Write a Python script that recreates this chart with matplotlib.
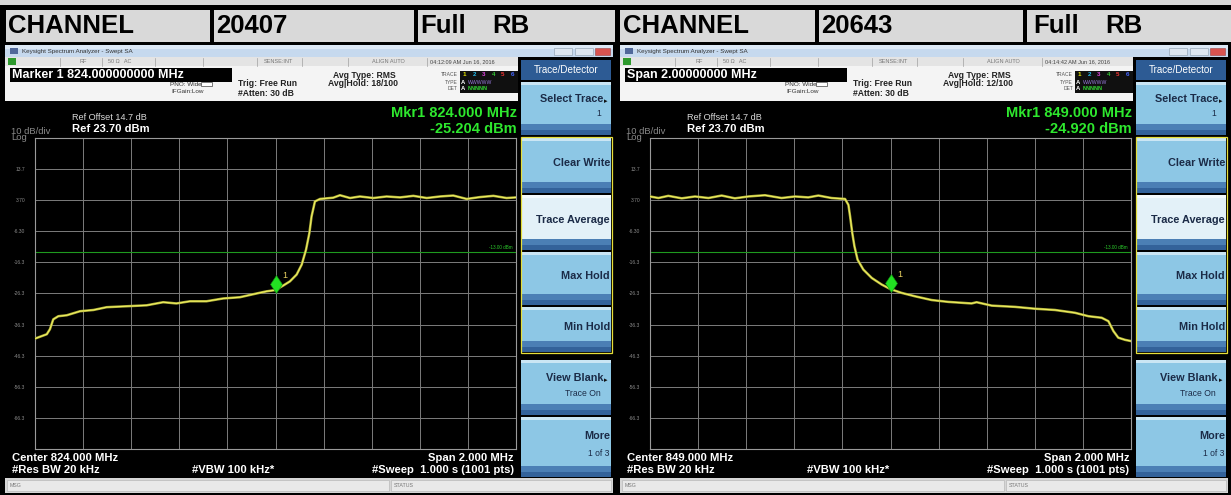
import matplotlib
matplotlib.use("Agg")
import matplotlib.pyplot as plt
from matplotlib.patches import Rectangle
from matplotlib.transforms import ScaledTranslation

plt.rcParams['font.family'] = ['Liberation Sans', 'DejaVu Sans']

# Datos de las dos capturas (offset de frecuencia en MHz respecto al centro, nivel en dBm)
channels = ["20407", "20643"]
centers = ["824.000", "849.000"]
entry_labels = ["Marker 1 824.000000000 MHz", "Span 2.00000000 MHz"]
mkr_freq_text = ["Mkr1 824.000 MHz", "Mkr1 849.000 MHz"]
mkr_level = [-25.204, -24.920]
mkr_offset = [0.0, 0.0]
timestamps = ["04:12:09 AM Jun 16, 2016", "04:14:42 AM Jun 16, 2016"]
avg_hold = ["18/100", "12/100"]
limit_dbm = -13.0

low_offset = [-1.000, -0.951, -0.938, -0.924, -0.903, -0.868, -0.813, -0.757, -0.702,
              -0.619, -0.536, -0.467, -0.412, -0.356, -0.287, -0.218, -0.148, -0.079,
              -0.037, 0.000, 0.033, 0.060, 0.088, 0.109, 0.127, 0.141, 0.150, 0.164,
              0.185, 0.240, 0.268, 0.310, 0.351, 0.407, 0.462, 0.518, 0.573, 0.629,
              0.684, 0.739, 0.795, 0.850, 0.906, 0.961, 1.000]
low_dbm = [-40.8, -39.4, -37.8, -34.6, -33.6, -33.3, -32.0, -31.6, -30.7,
           -30.4, -30.1, -29.1, -29.5, -28.8, -28.8, -27.9, -27.5, -26.3,
           -25.6, -25.2, -23.7, -22.4, -20.2, -17.0, -12.2, -6.8, -1.5, 3.3,
           4.1, 4.5, 5.3, 4.4, 4.9, 4.4, 4.9, 4.6, 5.1, 4.4,
           4.9, 5.2, 4.1, 4.7, 5.1, 4.4, 4.6]

high_offset = [-1.000, -0.965, -0.924, -0.868, -0.813, -0.757, -0.702, -0.647, -0.591,
               -0.522, -0.453, -0.397, -0.342, -0.300, -0.245, -0.189, -0.175, -0.168,
               -0.159, -0.150, -0.137, -0.113, -0.078, -0.037, 0.000, 0.046, 0.102,
               0.171, 0.240, 0.337, 0.358, 0.421, 0.518, 0.601, 0.684, 0.767, 0.823,
               0.878, 0.906, 0.927, 0.947, 0.975, 1.000]
high_dbm = [4.9, 4.4, 5.1, 4.3, 4.9, 4.4, 5.2, 4.3, 4.9,
            5.3, 4.4, 4.9, 4.6, 5.2, 4.4, 4.1, 2.2, -1.5,
            -6.8, -11.1, -15.4, -18.6, -21.3, -23.4, -24.9, -26.1, -27.2,
            -28.4, -29.0, -29.5, -29.1, -30.2, -30.6, -31.2, -31.6, -32.5, -33.6,
            -34.1, -35.2, -38.4, -40.5, -41.2, -41.6]

traces = [(low_offset, low_dbm), (high_offset, high_dbm)]

y_tick_values = [13.7, 3.7, -6.3, -16.3, -26.3, -36.3, -46.3, -56.3, -66.3]
y_tick_labels = ["13.7", "3.70", "-6.30", "-16.3", "-26.3", "-36.3", "-46.3", "-56.3", "-66.3"]
x_tick_values = [-0.8, -0.6, -0.4, -0.2, 0.0, 0.2, 0.4, 0.6, 0.8]

softkeys = [("Select Trace", "1", True), ("Clear Write", None, False),
            ("Trace Average", None, False), ("Max Hold", None, False),
            ("Min Hold", None, False), ("View Blank", "Trace On", True),
            ("More", "1 of 3", False)]
softkey_rows = [(82, 135), (138, 193), (195, 250), (252, 305), (307, 352), (360, 415), (417, 477)]

W, H = 1231, 495
fig = plt.figure(figsize=(W / 100, H / 100), dpi=100)
fig.patch.set_facecolor("black")
bg = fig.add_axes([0, 0, 1, 1])
bg.set_xlim(0, W)
bg.set_ylim(H, 0)
bg.axis("off")


def box(x0, y0, x1, y1, fc, ec="none", lw=0, z=1):
    bg.add_patch(Rectangle((x0, y0), x1 - x0, y1 - y0, facecolor=fc,
                           edgecolor=ec, linewidth=lw, zorder=z))


def txt(x, y, s, size, color="black", ha="left", va="center", weight="normal"):
    bg.text(x, y, s, fontsize=size, color=color, ha=ha, va=va,
            fontweight=weight, zorder=5)


# Cabecera tipo tabla
box(0, 0, W, 4.5, "#d9d9d9")
for x0, x1 in [(5.5, 210), (214, 414), (418, 615), (620, 815), (819, 1023), (1027, 1231)]:
    box(x0, 9.5, x1, 41.5, "#d9d9d9")
for i, dx in enumerate([0, 615]):
    txt(dx + 8, 26, "CHANNEL", 18.5, weight="bold")
    txt(dx + [216, 206][i], 26, channels[i], 18.5, weight="bold")
    txt(dx + [420, 418][i], 26, "Full", 18.5, weight="bold")
    txt(dx + [492, 490][i], 26, "RB", 18.5, weight="bold")


def draw_panel(i, dx):
    # barra de titulo
    box(dx + 5, 45, dx + 613, 57, "#c6d9ee")
    box(dx + 5, 45, dx + 613, 49, "#dce8f5")
    box(dx + 10, 48, dx + 18, 54, "#50689a")
    txt(dx + 22, 51.5, "Keysight Spectrum Analyzer - Swept SA", 4.5, "#333333")
    box(dx + 554, 48, dx + 572, 55, "#dde6f0", ec="#8899aa", lw=0.4)
    box(dx + 575, 48, dx + 593, 55, "#dde6f0", ec="#8899aa", lw=0.4)
    box(dx + 595, 48, dx + 610, 55, "#d9534f", ec="#994444", lw=0.4)

    # fila de estado
    box(dx + 5, 57, dx + 520, 66, "#e4e4e4")
    box(dx + 8, 58, dx + 16, 65, "#2e9a2e")
    for sx in [60, 102, 155, 203, 257, 302, 348, 427]:
        bg.plot([dx + sx, dx + sx], [57.5, 65.5], color="#a0a0a0", lw=0.5, zorder=2)
    txt(dx + 80, 61.5, "RF", 4, "#777777")
    txt(dx + 108, 61.5, "50 \u03a9   AC", 4, "#777777")
    txt(dx + 264, 61.5, "SENSE:INT", 4, "#777777")
    txt(dx + 372, 61.5, "ALIGN AUTO", 4, "#777777")
    txt(dx + 430, 61.5, timestamps[i], 4, "#444444")

    # fila de marcador
    box(dx + 5, 66, dx + 520, 101, "#f4f4f4")
    box(dx + 10, 68, dx + 232, 82, "black")
    txt(dx + 12, 75, entry_labels[i], 9, "white", weight="bold")
    txt(dx + 170, 84, "PNO: Wide", 4.6, "#333333")
    box(dx + 201, 81.5, dx + 212, 86, "white", ec="#444444", lw=0.5)
    txt(dx + 171, 91.5, "IFGain:Low", 4.6, "#333333")
    txt(dx + 238, 84, "Trig: Free Run", 6.2, "#222222", weight="bold")
    txt(dx + 238, 93, "#Atten: 30 dB", 6.2, "#222222", weight="bold")
    txt(dx + 333, 75, "Avg Type: RMS", 6.2, "#222222", weight="bold")
    txt(dx + 328, 83, "Avg|Hold: " + avg_hold[i], 6.2, "#222222", weight="bold")
    txt(dx + 458, 75, "TRACE", 3.6, "#555555", ha="right")
    txt(dx + 458, 82, "TYPE", 3.6, "#555555", ha="right")
    txt(dx + 458, 89, "DET", 3.6, "#555555", ha="right")
    box(dx + 460, 71, dx + 518, 93, "#101010")
    for k, c in enumerate(["#e6e600", "#22bbee", "#dd44dd", "#33cc33", "#ee3333", "#4466ff"]):
        txt(dx + 463 + k * 9.5, 75, str(k + 1), 4.5, c, weight="bold")
    txt(dx + 461, 82, "A", 4.2, "white", weight="bold")
    txt(dx + 468, 82, "WWWWW", 3.7, "#9a7adf")
    txt(dx + 461, 89, "A", 4.2, "white", weight="bold")
    txt(dx + 468, 89, "NNNNN", 3.9, "#33dd33", weight="bold")

    # textos de la pantalla
    txt(dx + 72, 117, "Ref Offset 14.7 dB", 6.6, "#d8d8d8")
    txt(dx + 72, 129, "Ref 23.70 dBm", 8.1, "white", weight="bold")
    txt(dx + 11, 131, "10 dB/div", 6.8, "#8a8a8a")
    txt(dx + 11, 138, "Log", 6.8, "#8a8a8a")
    txt(dx + 517, 113, mkr_freq_text[i], 10.5, "#2ee82e", ha="right", weight="bold")
    txt(dx + 517, 129, "%.3f dBm" % mkr_level[i], 10.5, "#2ee82e", ha="right", weight="bold")
    txt(dx + 12, 458, "Center %s MHz" % centers[i], 8.1, "white", weight="bold")
    txt(dx + 12, 470, "#Res BW 20 kHz", 8.1, "white", weight="bold")
    txt(dx + 192, 470, "#VBW 100 kHz*", 8.1, "white", weight="bold")
    txt(dx + 514, 458, "Span 2.000 MHz", 8.1, "white", ha="right", weight="bold")
    txt(dx + 514, 470, "#Sweep  1.000 s (1001 pts)", 8.1, "white", ha="right", weight="bold")

    # panel de teclas
    box(dx + 518, 57, dx + 613, 478, "black")
    box(dx + 521, 60, dx + 611, 80, "#2d5b94")
    txt(dx + 566, 70, "Trace/Detector", 7.1, "white", ha="center")
    for k, ((label, sub, arrow), (y0, y1)) in enumerate(zip(softkeys, softkey_rows)):
        body = "#e3f1f8" if k == 2 else "#8dc7e5"
        box(dx + 521, y0, dx + 611, y1, body)
        box(dx + 521, y0, dx + 611, y0 + 3, "#cbe6f4" if k != 2 else "#f4fafd")
        box(dx + 521, y1 - 11, dx + 611, y1 - 5, "#4b7fb5")
        box(dx + 521, y1 - 5, dx + 611, y1, "#33629a")
        h = y1 - y0
        right = dx + 603 if arrow else dx + 610
        if sub is None:
            txt(right, y0 + 0.45 * h, label, 7.8, "#1b2b47", ha="right", weight="bold")
        else:
            txt(right, y0 + 0.32 * h, label, 7.8, "#1b2b47", ha="right", weight="bold")
            txt(dx + (601 if arrow else 609), y0 + 0.6 * h, sub, 6.2, "#1b2b47", ha="right")
        if arrow:
            bg.text(dx + 604, y0 + 0.36 * h, "\u25b8", fontsize=5, color="#111111",
                    ha="left", va="center", zorder=5, family=["DejaVu Sans"])
    box(dx + 521, 137, dx + 611.5, 353, "none", ec="#e6df3a", lw=0.9, z=4)

    # barra inferior
    box(dx + 5, 478, dx + 613, 493, "#d6d6d6")
    box(dx + 7, 480, dx + 389, 491, "#e9e9e9", ec="#b0b0b0", lw=0.4)
    box(dx + 391, 480, dx + 611, 491, "#e9e9e9", ec="#b0b0b0", lw=0.4)
    txt(dx + 10, 485.5, "MSG", 3.8, "#777777")
    txt(dx + 394, 485.5, "STATUS", 3.8, "#777777")

    # grafico de la traza
    gx0, gx1, gy0, gy1 = dx + 35, dx + 516, 138, 449
    ax = fig.add_axes([gx0 / W, 1 - gy1 / H, (gx1 - gx0) / W, (gy1 - gy0) / H])
    ax.set_facecolor("black")
    offs, lev = traces[i]
    ax.plot(offs, lev, color="#a8a838", lw=1.8, zorder=3)
    ax.plot(offs, lev, color="#f0f060", lw=0.8, zorder=4)
    ax.axhline(limit_dbm, color="#1f9a1f", lw=0.8, zorder=2)
    ax.text(0.985, limit_dbm + 0.6, "-13.00 dBm", fontsize=3.3, color="#2ccc2c",
            ha="right", va="bottom")
    shift = ScaledTranslation(0, 6.5 / 100, fig.dpi_scale_trans)
    ax.plot([mkr_offset[i]], [mkr_level[i]], marker="d", ms=9.5, color="#22e022",
            mec="#118811", mew=0.4, transform=ax.transData + shift, zorder=5)
    ax.annotate("1", xy=(mkr_offset[i], mkr_level[i]), xytext=(5, 9),
                textcoords="offset points", fontsize=6.5, color="#e8d060")
    ax.set_xlim(-1, 1)
    ax.set_ylim(-76.3, 23.7)
    ax.set_xticks(x_tick_values)
    ax.set_xticklabels([])
    ax.set_yticks(y_tick_values)
    ax.set_yticklabels(y_tick_labels, fontsize=3.6, color="#8a8a8a")
    ax.tick_params(length=0, pad=7)
    ax.grid(color="#7c7c7c", lw=0.7)
    for s in ax.spines.values():
        s.set_color("#9a9a9a")
        s.set_linewidth(0.8)


for i, dx in enumerate([0, 615]):
    draw_panel(i, dx)

plt.savefig("out.png", dpi=100, facecolor="black")
